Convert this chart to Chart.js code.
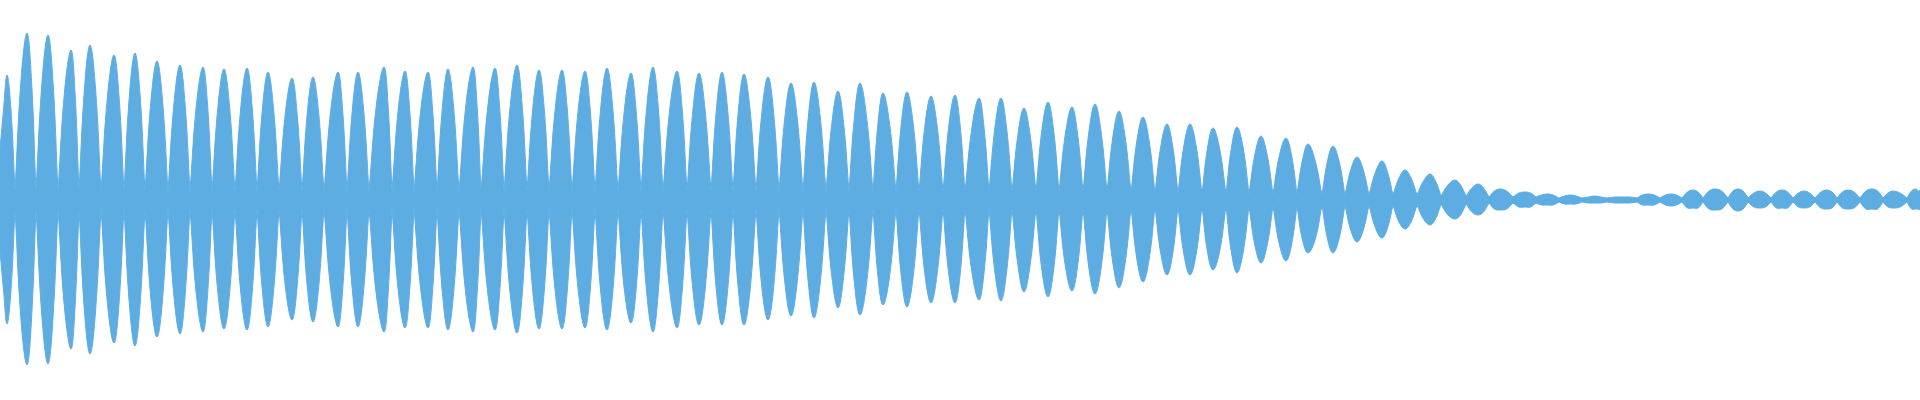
<!DOCTYPE html>
<html>
<head>
<meta charset="utf-8">
<script src="https://cdn.jsdelivr.net/npm/chart.js@4/dist/chart.umd.min.js"></script>
<style>
  html, body { margin: 0; padding: 0; background: #fff; }
  #wrap { width: 1920px; height: 400px; }
</style>
</head>
<body>
<div id="wrap"><canvas id="wave"></canvas></div>
<script>
// Waveform envelope (sample position, amplitude).
// Node positions: the pinch points between lobes (first/last are the edges).
var nodeX = [0, 15, 36, 58, 79, 101, 124, 145, 168, 190, 212, 235, 257, 279, 302, 324, 347, 369, 392, 414,
  437, 459, 481, 504, 527, 549, 572, 595, 618, 641, 663, 687, 711, 733, 756, 779, 803, 826, 849, 873,
  896, 919, 943, 965, 989, 1012, 1036, 1059, 1083, 1107, 1131, 1155, 1178, 1202, 1226, 1249, 1273, 1297, 1322, 1345,
  1369, 1393, 1417, 1441, 1466, 1489, 1513, 1536, 1559, 1582, 1607, 1637, 1660, 1682, 1703, 1728, 1748, 1771, 1793, 1815,
  1837, 1860, 1883, 1907, 1920];
var nodeAmp = [51, 8, 8, 8, 8, 8, 8, 8, 8, 8, 8, 8, 8, 8, 8, 8, 8, 8, 8, 8,
  8, 8, 8, 8, 8, 8, 8, 8, 8, 8, 8, 8, 8, 8, 8, 8, 8, 8, 8, 8,
  8, 8, 8, 8, 8, 8, 8, 8, 8, 8, 7, 7, 7, 6, 6, 6, 6, 6, 5, 5,
  5, 5, 5, 4, 4, 3, 3, 3, 2, 2, 2, 2, 2, 2, 2, 2, 2, 2, 2, 2,
  2, 2, 2, 2, 10];

// Lobe peaks: position, height above and depth below the centre line
var peakX = [7, 27, 48, 71, 90, 114, 135, 157, 180, 203, 224, 247, 268, 292, 313, 338, 358, 384, 405, 428,
  448, 473, 495, 517, 539, 562, 585, 607, 631, 653, 677, 699, 722, 744, 768, 791, 814, 838, 860, 883,
  907, 931, 955, 979, 1001, 1024, 1048, 1072, 1095, 1119, 1143, 1167, 1190, 1213, 1237, 1261, 1286, 1308, 1333, 1357,
  1382, 1405, 1430, 1455, 1478, 1500, 1525, 1547, 1570, 1595, 1623, 1648, 1671, 1693, 1715, 1738, 1760, 1782, 1804, 1827,
  1848, 1872, 1893, 1916];
var peakTop = [125, 167, 165, 150, 155, 145, 147, 139, 135, 133, 131, 132, 128, 122, 123, 128, 128, 133, 129, 128,
  131, 133, 132, 135, 130, 130, 129, 132, 127, 133, 129, 127, 128, 126, 123, 117, 118, 109, 117, 107,
  108, 104, 105, 102, 102, 92, 98, 93, 96, 89, 83, 76, 76, 72, 73, 64, 62, 56, 54, 43,
  39, 30, 26, 20, 16, 11, 8, 6, 5, 4, 3, 6, 6, 10, 11, 11, 9, 10, 9, 10,
  10, 11, 9, 11];
var peakBottom = [124, 165, 164, 149, 154, 143, 146, 137, 134, 132, 129, 130, 127, 120, 122, 127, 127, 132, 128, 128,
  130, 132, 130, 133, 129, 129, 128, 130, 123, 132, 128, 125, 125, 125, 120, 116, 118, 108, 115, 105,
  107, 103, 103, 100, 101, 92, 97, 91, 94, 88, 82, 75, 75, 70, 73, 63, 61, 53, 53, 42,
  38, 29, 25, 19, 15, 10, 7, 5, 4, 3, 3, 5, 6, 8, 10, 11, 8, 8, 8, 9,
  9, 9, 8, 9];
// Envelope height half way between a node and its peak (flanks of each lobe)
var shoulder = [90, 120, 118, 108, 112, 104, 106, 100, 97, 96, 94, 95, 92, 88, 89, 92, 92, 96, 93, 92,
  94, 96, 95, 97, 94, 94, 93, 95, 91, 96, 93, 91, 92, 91, 89, 84, 85, 78, 84, 77,
  78, 75, 76, 73, 73, 66, 71, 67, 69, 64, 60, 55, 55, 52, 53, 46, 45, 40, 39, 31,
  28, 22, 19, 15, 12, 9, 7, 5, 4, 3, 3, 5, 5, 8, 9, 9, 7, 8, 7, 8,
  8, 9, 7, 9];

// Each lobe runs node -> flank -> peak -> flank -> node; repeating the shared node keeps the pinch sharp
var upper = [];
var lower = [];
for (var i = 0; i < peakX.length; i++) {
  var leftFlank = (nodeX[i] + peakX[i]) / 2;
  var rightFlank = (peakX[i] + nodeX[i + 1]) / 2;
  upper.push(
    { x: nodeX[i], y: nodeAmp[i] },
    { x: leftFlank, y: shoulder[i] },
    { x: peakX[i], y: peakTop[i] },
    { x: rightFlank, y: shoulder[i] },
    { x: nodeX[i + 1], y: nodeAmp[i + 1] }
  );
  lower.push(
    { x: nodeX[i], y: -nodeAmp[i] },
    { x: leftFlank, y: -shoulder[i] },
    { x: peakX[i], y: -peakBottom[i] },
    { x: rightFlank, y: -shoulder[i] },
    { x: nodeX[i + 1], y: -nodeAmp[i + 1] }
  );
}

var waveColor = '#5dade2';

new Chart(document.getElementById('wave').getContext('2d'), {
  type: 'line',
  data: {
    datasets: [{
      data: upper,
      borderColor: waveColor,
      backgroundColor: waveColor,
      borderWidth: 1,
      pointRadius: 0,
      tension: 0.4,
      fill: '+1'
    }, {
      data: lower,
      borderColor: waveColor,
      backgroundColor: waveColor,
      borderWidth: 1,
      pointRadius: 0,
      tension: 0.4,
      fill: false
    }]
  },
  options: {
    responsive: true,
    maintainAspectRatio: false,
    animation: false,
    layout: { padding: 0 },
    plugins: { legend: { display: false }, tooltip: { enabled: false } },
    scales: {
      x: { type: 'linear', min: 0, max: 1920, display: false },
      y: { min: -200, max: 200, display: false }
    }
  }
});
</script>
</body>
</html>
